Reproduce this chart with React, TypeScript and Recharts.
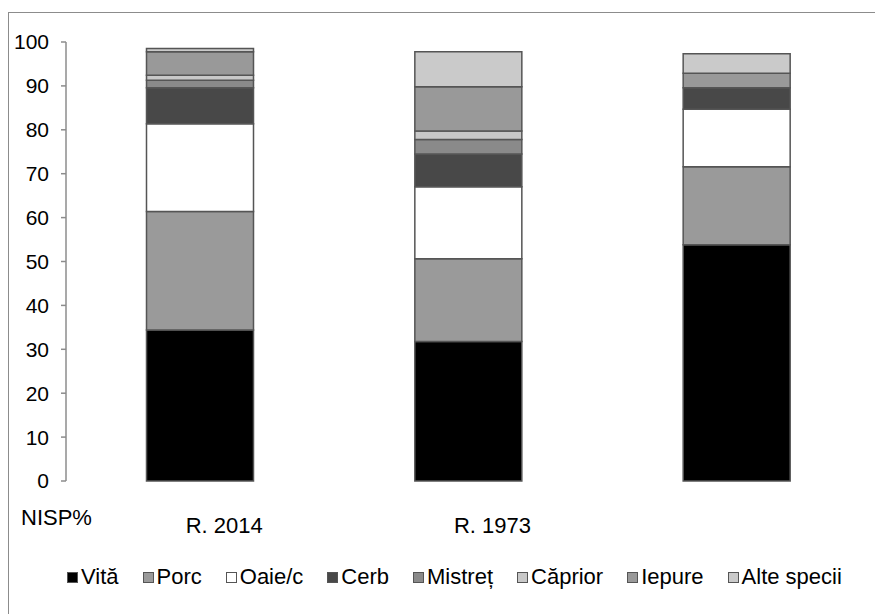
import { BarChart, Bar, XAxis, YAxis, Legend } from 'recharts';

const sites = ['R. 2014', 'R. 1973', ''];
const vita = [34.4, 31.8, 53.8];
const porc = [27.0, 18.8, 17.8];
const oaie = [20.0, 16.4, 13.1];
const cerb = [8.2, 7.5, 4.9];
const mistret = [1.7, 3.3, 0];
const caprior = [1.1, 1.9, 0];
const iepure = [5.4, 10.1, 3.3];
const alte = [0.7, 8.0, 4.4];
const yTicks = [0, 10, 20, 30, 40, 50, 60, 70, 80, 90, 100];

const series = [
  { key: 'vita', name: 'Vită', values: vita, fill: '#000000' },
  { key: 'porc', name: 'Porc', values: porc, fill: '#9a9a9a' },
  { key: 'oaie', name: 'Oaie/c', values: oaie, fill: '#ffffff' },
  { key: 'cerb', name: 'Cerb', values: cerb, fill: '#484848' },
  { key: 'mistret', name: 'Mistreț', values: mistret, fill: '#8a8a8a' },
  { key: 'caprior', name: 'Căprior', values: caprior, fill: '#c8c8c8' },
  { key: 'iepure', name: 'Iepure', values: iepure, fill: '#999999' },
  { key: 'alte', name: 'Alte specii', values: alte, fill: '#cacaca' },
];

const data = sites.map((site, i) => {
  const row: Record<string, string | number> = { site };
  series.forEach((s) => {
    row[s.key] = s.values[i];
  });
  return row;
});

const font = '"Liberation Sans", Arial, sans-serif';

function SiteTick({ x, y, payload }: any) {
  return (
    <text x={x + 24} y={y + 44} textAnchor="middle" fontSize={22} fill="#000" fontFamily={font}>
      {payload.value}
    </text>
  );
}

function LegendBox() {
  return (
    <div
      style={{
        display: 'flex',
        gap: 24,
        fontFamily: font,
        fontSize: 22,
        color: '#000',
        alignItems: 'center',
        whiteSpace: 'nowrap',
      }}
    >
      {series.map((s) => (
        <div key={s.key} style={{ display: 'flex', alignItems: 'center', gap: 3 }}>
          <span
            style={{
              width: 9,
              height: 9,
              background: s.fill,
              border: '1px solid #555',
              display: 'inline-block',
            }}
          />
          <span>{s.name}</span>
        </div>
      ))}
    </div>
  );
}

export default function App() {
  return (
    <div style={{ position: 'relative', width: 875, height: 606, fontFamily: font }}>
      <div
        style={{
          position: 'absolute',
          left: 0,
          top: 4,
          width: 871,
          height: 610,
          border: '1.5px solid #8c8c8c',
          boxSizing: 'border-box',
        }}
      />
      <div style={{ position: 'absolute', left: 0, top: 0 }}>
        <BarChart
          width={870}
          height={540}
          data={data}
          margin={{ top: 34, right: 7, bottom: 27, left: 0 }}
          barCategoryGap="30%"
        >
          <XAxis
            dataKey="site"
            axisLine={false}
            tickLine={false}
            height={40}
            tick={<SiteTick />}
            interval={0}
          />
          <YAxis
            domain={[0, 100]}
            ticks={yTicks}
            width={58}
            axisLine={{ stroke: '#8c8c8c', strokeWidth: 1.5 }}
            tickLine={{ stroke: '#8c8c8c', strokeWidth: 1.5 }}
            tickSize={5}
            tickMargin={12}
            tick={{ fontSize: 21, fill: '#000', fontFamily: font }}
            interval={0}
          />
          <Legend content={() => null} />
          {series.map((s) => (
            <Bar
              key={s.key}
              dataKey={s.key}
              name={s.name}
              stackId="a"
              fill={s.fill}
              stroke="#555555"
              strokeWidth={1.5}
              isAnimationActive={false}
            />
          ))}
        </BarChart>
      </div>
      <div
        style={{
          position: 'absolute',
          left: 13,
          top: 497,
          fontSize: 22,
          color: '#000',
        }}
      >
        NISP%
      </div>
      <div style={{ position: 'absolute', left: 59, top: 556 }}>
        <LegendBox />
      </div>
    </div>
  );
}
